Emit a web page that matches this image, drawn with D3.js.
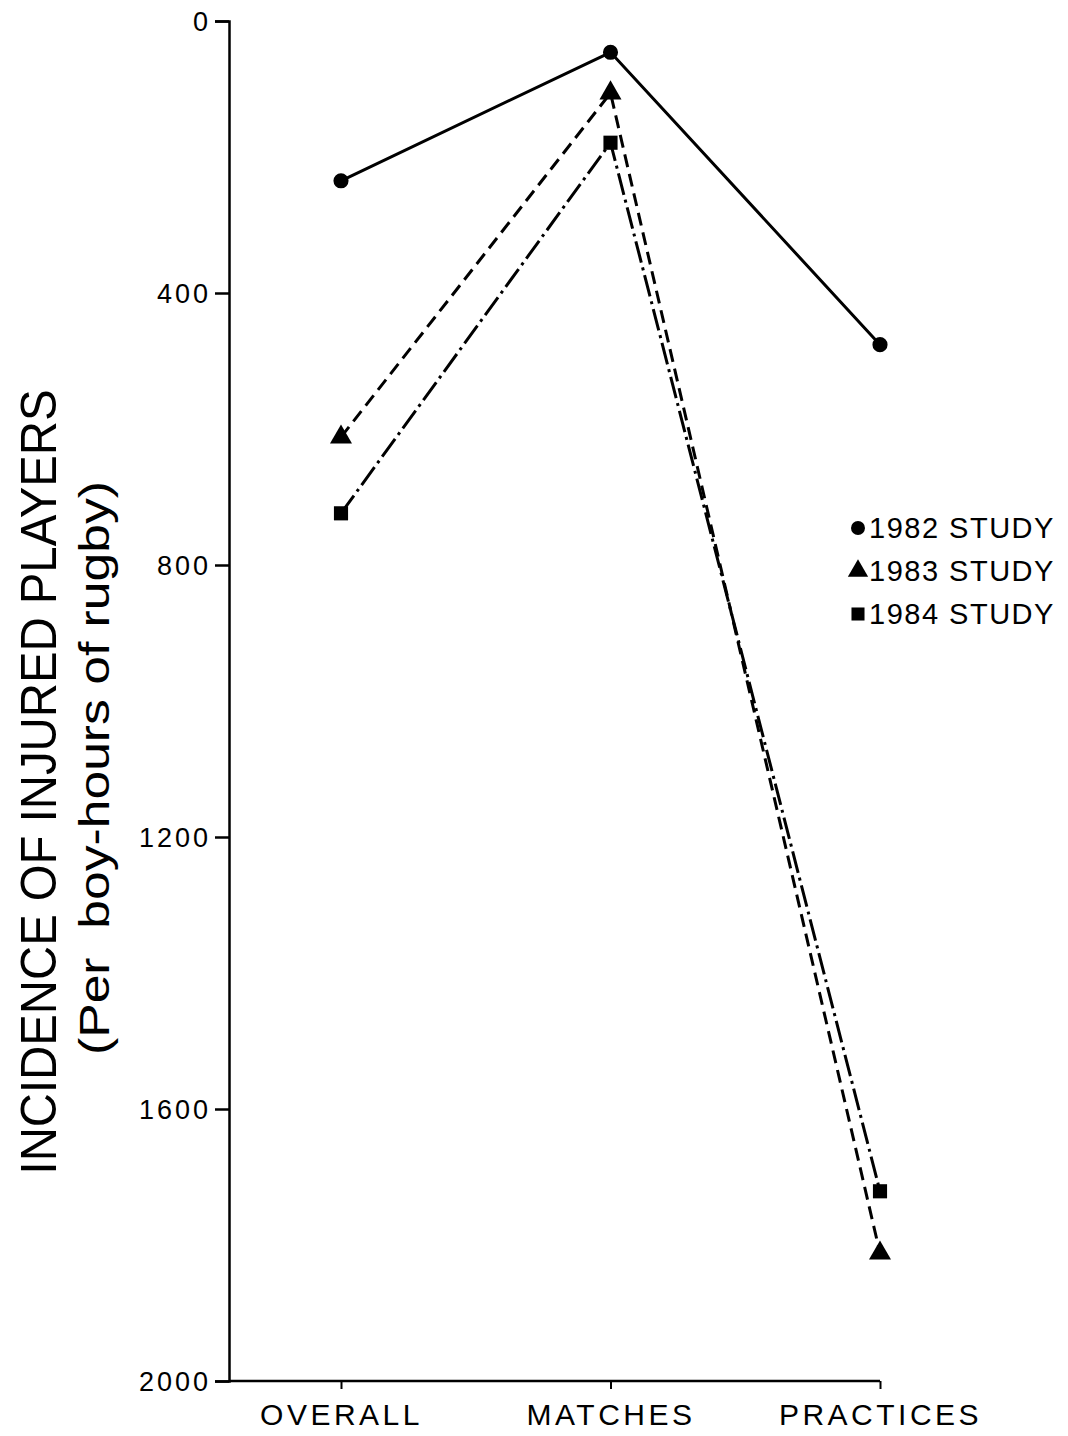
<!DOCTYPE html>
<html>
<head>
<meta charset="utf-8">
<script src="https://cdn.jsdelivr.net/npm/d3@7"></script>
<style>
  html, body { margin: 0; padding: 0; background: #fff; }
  svg { display: block; }
  text { font-family: "Liberation Sans", Arial, Helvetica, sans-serif; fill: #000; }
</style>
</head>
<body>
<svg id="chart" width="1068" height="1436"></svg>
<script>
// ---- data ----
const categories = ["OVERALL", "MATCHES", "PRACTICES"];
const study1982 = [235, 46, 476];
const study1983 = [612, 106, 1812];
const study1984 = [724, 179, 1721];
const seriesNames = ["1982 STUDY", "1983 STUDY", "1984 STUDY"];
const yTicks = [0, 400, 800, 1200, 1600, 2000];

const series = [
  { name: seriesNames[0], values: study1982, symbol: d3.symbolCircle, size: 180, dash: null },
  { name: seriesNames[1], values: study1983, symbol: d3.symbolTriangle, size: 210, dash: "13,7" },
  { name: seriesNames[2], values: study1984, symbol: d3.symbolSquare, size: 200, dash: "22,5,3,5" }
];

const svg = d3.select("#chart");
const axisX = 229;
const x = d3.scalePoint().domain(categories).range([341, 880]);
const y = d3.scaleLinear().domain([0, 2000]).range([21, 1381]);

// ---- y axis ----
const yAxis = d3.axisLeft(y).tickValues(yTicks).tickSize(14).tickPadding(4).tickFormat(d3.format("d"));
const gy = svg.append("g").attr("transform", `translate(${axisX},0)`).call(yAxis);
gy.select(".domain").attr("stroke", "#000").attr("stroke-width", 2.5);
gy.selectAll(".tick line").attr("stroke", "#000").attr("stroke-width", 2.5);
gy.selectAll(".tick text")
  .style("font-size", "27px")
  .style("letter-spacing", "3px")
  .attr("dy", "0.36em");

// ---- x axis ----
const xAxis = d3.axisBottom(x).tickSize(8).tickSizeOuter(0).tickPadding(15);
const gx = svg.append("g").attr("transform", `translate(0,${y(2000)})`).call(xAxis);
gx.select(".domain").remove();
gx.append("line")
  .attr("x1", axisX).attr("x2", x.range()[1])
  .attr("y1", 0).attr("y2", 0)
  .attr("stroke", "#000").attr("stroke-width", 2.5);
gx.selectAll(".tick line").attr("stroke", "#000").attr("stroke-width", 2);
gx.selectAll(".tick text")
  .style("font-size", "30px")
  .style("letter-spacing", "3.5px")
  .attr("dy", "0.71em");

// ---- y titles ----
svg.append("text")
  .attr("transform", `translate(56,782) rotate(-90)`)
  .attr("text-anchor", "middle")
  .attr("textLength", 785)
  .attr("lengthAdjust", "spacingAndGlyphs")
  .style("font-family", "'Liberation Sans Narrow', 'Liberation Sans', Arial, sans-serif")
  .style("font-size", "50px")
  .text("INCIDENCE OF INJURED PLAYERS");

svg.append("text")
  .attr("transform", `translate(109,768) rotate(-90)`)
  .attr("text-anchor", "middle")
  .attr("textLength", 574)
  .attr("lengthAdjust", "spacingAndGlyphs")
  .style("font-family", "'Liberation Sans Narrow', 'Liberation Sans', Arial, sans-serif")
  .style("font-size", "42px")
  .text("(Per\u00A0\u00A0boy-hours of rugby)");

// ---- lines ----
const line = d3.line()
  .x((d, i) => x(categories[i]))
  .y(d => y(d));

series.forEach(s => {
  svg.append("path")
    .datum(s.values)
    .attr("d", line)
    .attr("fill", "none")
    .attr("stroke", "#000")
    .attr("stroke-width", 3)
    .attr("stroke-dasharray", s.dash);
  svg.append("g").selectAll("path")
    .data(s.values)
    .join("path")
    .attr("transform", (d, i) => `translate(${x(categories[i])},${y(d)})`)
    .attr("d", d3.symbol().type(s.symbol).size(s.size))
    .attr("fill", "#000");
});

// ---- legend ----
const legend = svg.append("g").attr("transform", "translate(858,528)");
series.forEach((s, i) => {
  const g = legend.append("g").attr("transform", `translate(0,${i * 43})`);
  g.append("path")
    .attr("d", d3.symbol().type(s.symbol).size(s.size * 0.85))
    .attr("fill", "#000");
  g.append("text")
    .attr("x", 11)
    .attr("y", 0)
    .attr("dy", "0.36em")
    .style("font-size", "29px")
    .style("letter-spacing", "1.5px")
    .text(s.name);
});
</script>
</body>
</html>
